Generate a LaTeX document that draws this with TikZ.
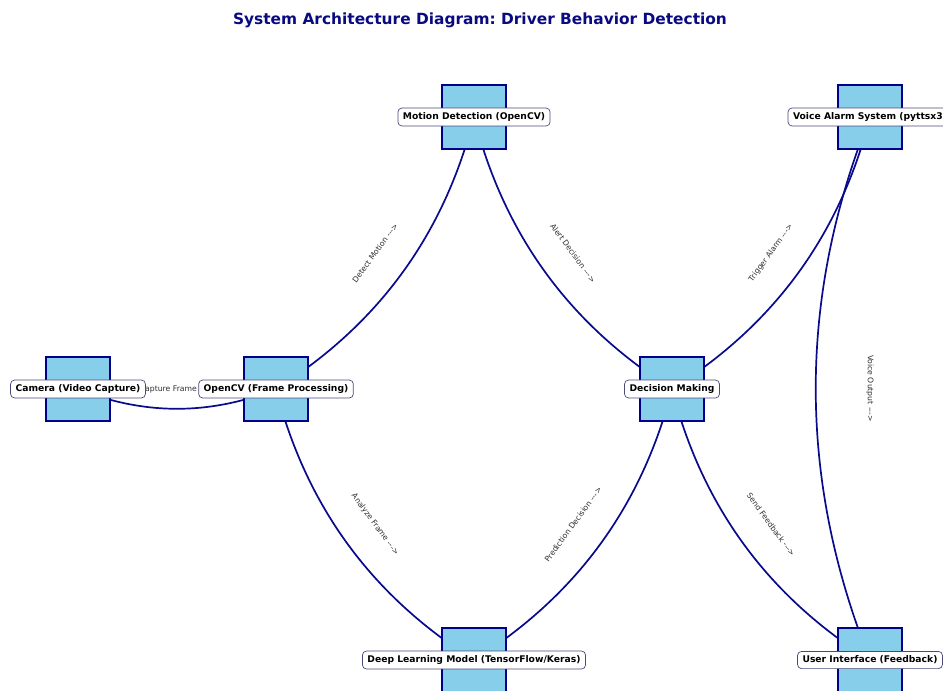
\documentclass[tikz,border=0pt]{standalone}
\usepackage{fontspec}
\setmainfont[Ligatures=NoCommon]{DejaVu Sans}
\frenchspacing
\usetikzlibrary{calc}
\definecolor{boxfill}{HTML}{87CEEB}
\definecolor{boxline}{HTML}{00008B}
\definecolor{edgeline}{HTML}{0A0A8C}
\definecolor{titlecol}{HTML}{0A0A80}
\definecolor{tagline}{HTML}{4A4A7A}
\definecolor{edgetext}{HTML}{2E2E2E}
\newcommand{\fwd}{-{}-{}->}
\tikzset{
  unitbox/.style={draw=boxline, fill=boxfill, line width=1.8pt,
    minimum width=64pt, minimum height=64pt, inner sep=0pt},
  tag/.style={draw=tagline, fill=white, rounded corners=4pt, line width=0.7pt,
    inner xsep=5pt, inner ysep=4.5pt, font=\fontsize{9.2}{11}\selectfont\bfseries},
  link/.style={draw=edgeline, line width=1.7pt, bend right=21.8, looseness=0.92},
  linktext/.style={text=edgetext, font=\fontsize{7.7}{9}\selectfont, inner sep=1pt}
}
\begin{document}
\begin{tikzpicture}[x=1pt, y=-1pt]
\useasboundingbox (0,0) rectangle (943,691);
\clip (0,0) rectangle (943,691);

% component centres
\coordinate (cam) at (78,389);
\coordinate (ocv) at (276,389);
\coordinate (mot) at (474,117);
\coordinate (voi) at (870,117);
\coordinate (dec) at (672,389);
\coordinate (dlm) at (474,660);
\coordinate (ui)  at (870,660);

% title
\node[text=titlecol, font=\fontsize{15.4}{18}\selectfont\bfseries] (title) at (480,20)
  {System Architecture Diagram: Driver Behavior Detection};

% connections (centre to centre, covered by the boxes)
\draw[link] (cam) to (ocv);
\draw[link] (ocv) to (mot);
\draw[link] (ocv) to (dlm);
\draw[link] (mot) to (dec);
\draw[link] (dlm) to (dec);
\draw[link] (dec) to (voi);
\draw[link] (dec) to (ui);
\draw[link] (voi) to (ui);

% connection labels at the midpoints
\node[linktext] (l1) at ($(cam)!0.5!(ocv)$) {Capture Frame \fwd};
\node[linktext, rotate=53.9] (l2) at ($(ocv)!0.5!(mot)$) {Detect Motion \fwd};
\node[linktext, rotate=-53.9] (l3) at ($(ocv)!0.5!(dlm)$) {Analyze Frame \fwd};
\node[linktext, rotate=-53.9] (l4) at ($(mot)!0.5!(dec)$) {Alert Decision \fwd};
\node[linktext, rotate=53.9] (l5) at ($(dlm)!0.5!(dec)$) {Prediction Decision \fwd};
\node[linktext, rotate=53.9] (l6) at ($(dec)!0.5!(voi)$) {Trigger Alarm \fwd};
\node[linktext, rotate=-53.9] (l7) at ($(dec)!0.5!(ui)$) {Send Feedback \fwd};
\node[linktext, rotate=-90] (l8) at ($(voi)!0.5!(ui)$) {Voice Output \fwd};

% component boxes
\node[unitbox] (camB) at (cam) {};
\node[unitbox] (ocvB) at (ocv) {};
\node[unitbox] (motB) at (mot) {};
\node[unitbox] (voiB) at (voi) {};
\node[unitbox] (decB) at (dec) {};
\node[unitbox] (dlmB) at (dlm) {};
\node[unitbox] (uiB)  at (ui)  {};

% component names
\node[tag] (camT) at (cam) {Camera (Video Capture)};
\node[tag] (ocvT) at (ocv) {OpenCV (Frame Processing)};
\node[tag] (motT) at (mot) {Motion Detection (OpenCV)};
\node[tag] (voiT) at (voi) {Voice Alarm System (pyttsx3)};
\node[tag] (decT) at (dec) {Decision Making};
\node[tag] (dlmT) at (dlm) {Deep Learning Model (TensorFlow/Keras)};
\node[tag] (uiT)  at (ui)  {User Interface (Feedback)};
\end{tikzpicture}
\end{document}
